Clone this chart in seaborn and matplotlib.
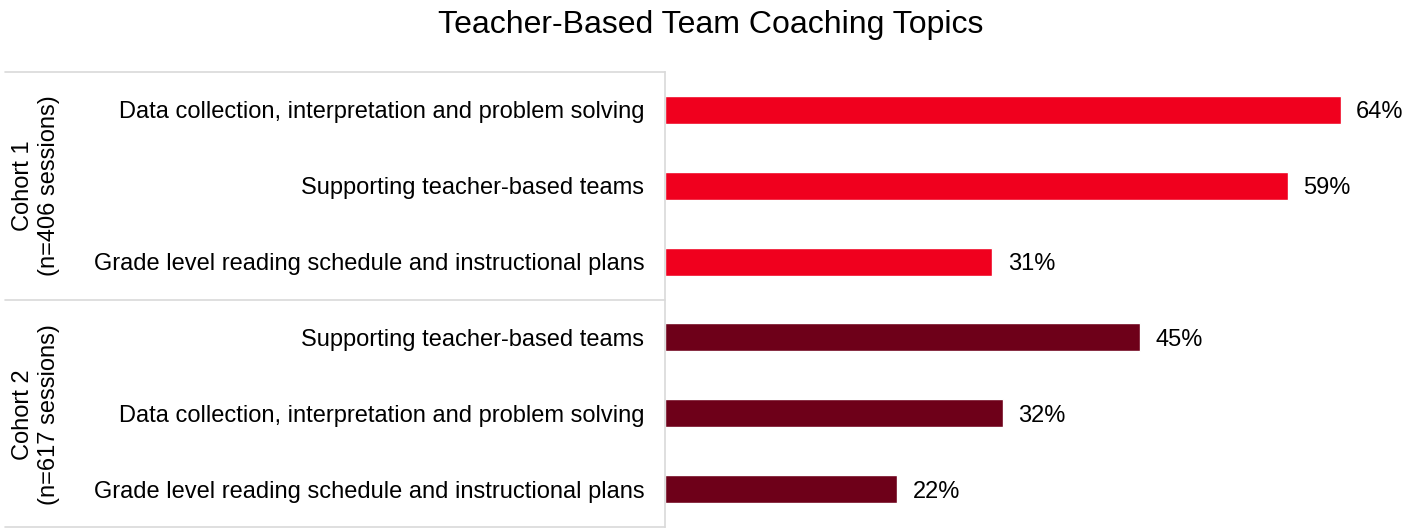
import numpy as np
import pandas as pd
import seaborn as sns
import matplotlib.pyplot as plt

# ------------------- Data -------------------
topics_c1 = ["Data collection, interpretation and problem solving",
             "Supporting teacher-based teams",
             "Grade level reading schedule and instructional plans"]
values_c1 = [64, 59, 31]
topics_c2 = ["Supporting teacher-based teams",
             "Data collection, interpretation and problem solving",
             "Grade level reading schedule and instructional plans"]
values_c2 = [45, 32, 22]
cohort_labels = ["Cohort 1\n(n=406 sessions)", "Cohort 2\n(n=617 sessions)"]
colors = ["#F0001E", "#6E0019"]

df = pd.DataFrame({
    "row": [f"c1_{i}" for i in range(3)] + [f"c2_{i}" for i in range(3)],
    "topic": topics_c1 + topics_c2,
    "pct": values_c1 + values_c2,
    "cohort": ["Cohort 1"] * 3 + ["Cohort 2"] * 3,
})

# ------------------- Plot -------------------
sns.set_style("white")
plt.rcParams['font.family'] = ['Liberation Sans', 'DejaVu Sans']
plt.rcParams['text.color'] = 'black'

fig = plt.figure(figsize=(14.21, 5.29), dpi=100)
ax = fig.add_axes([665 / 1421, 2 / 529, (1404 - 665) / 1421, (527 - 72) / 529])

sns.barplot(data=df, x="pct", y="row", hue="cohort", palette=colors,
            dodge=False, legend=False, width=0.37, saturation=1, ax=ax)

ax.set_xlim(0, 70)
ax.set_ylim(5.5, -0.5)
ax.set_yticks(range(len(df)))
ax.set_yticklabels(df["topic"], fontsize=17, color="black")
ax.tick_params(axis="y", length=0, pad=15)
ax.set_xticks([])
ax.set_xlabel("")
ax.set_ylabel("")
for s in ["top", "right", "bottom"]:
    ax.spines[s].set_visible(False)
ax.spines["left"].set_color("#D9D9D9")
ax.spines["left"].set_linewidth(1.2)

# value labels
for i, v in enumerate(df["pct"]):
    ax.text(v + 1.45, i, f"{v}%", va="center_baseline", ha="left", fontsize=17)

# table lines on the left
line_kw = dict(color="#D9D9D9", lw=1.2, transform=fig.transFigure)
for ypix in [72, 300, 527]:
    yf = 1 - ypix / 529
    fig.add_artist(plt.Line2D([5 / 1421, 665 / 1421], [yf, yf], **line_kw))

# cohort labels
for k, lab in enumerate(cohort_labels):
    yc = 1 - (186 + k * 229) / 529
    fig.text(36 / 1421, yc, lab, rotation=90, ha="center", va="center",
             fontsize=17, linespacing=1.25)

fig.suptitle("Teacher-Based Team Coaching Topics", fontsize=23, y=0.982)

plt.savefig("out.png", dpi=100)
